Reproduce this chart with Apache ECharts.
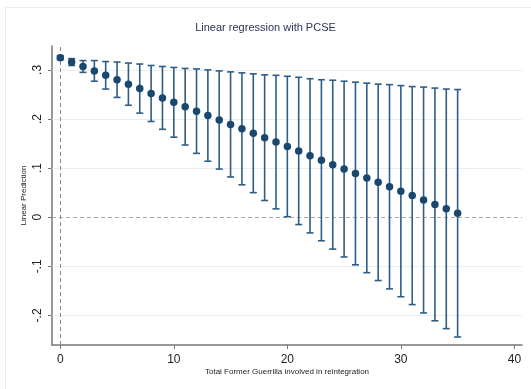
<!DOCTYPE html>
<html>
<head>
<meta charset="utf-8">
<title>Linear regression with PCSE</title>
<script src="https://cdn.jsdelivr.net/npm/echarts@6/dist/echarts.min.js"></script>
<style>
  html, body { margin: 0; padding: 0; background: #fff; }
  #chart { width: 531px; height: 389px; }
</style>
</head>
<body>
<div id="chart"></div>
<script>
// Total former guerrilla (x), predicted values and 95% CI bounds
var guerrilla = [0, 1, 2, 3, 4, 5, 6, 7, 8, 9, 10, 11, 12, 13, 14, 15, 16, 17,
    18, 19, 20, 21, 22, 23, 24, 25, 26, 27, 28, 29, 30, 31, 32, 33, 34, 35];
var prediction = [0.325, 0.316, 0.307, 0.298, 0.289, 0.280, 0.271, 0.262, 0.252,
    0.243, 0.234, 0.225, 0.216, 0.207, 0.198, 0.189, 0.180, 0.171, 0.162, 0.153,
    0.144, 0.135, 0.125, 0.116, 0.107, 0.098, 0.089, 0.080, 0.071, 0.062, 0.053,
    0.044, 0.035, 0.026, 0.017, 0.008];
var lowerCI = [0.321, 0.309, 0.295, 0.277, 0.261, 0.244, 0.228, 0.212, 0.195,
    0.179, 0.163, 0.147, 0.130, 0.114, 0.098, 0.082, 0.066, 0.050, 0.034, 0.017,
    0.001, -0.015, -0.032, -0.048, -0.065, -0.081, -0.097, -0.113, -0.129, -0.146,
    -0.162, -0.178, -0.195, -0.211, -0.227, -0.244];
var upperCI = [0.329, 0.323, 0.319, 0.319, 0.317, 0.316, 0.314, 0.312, 0.309,
    0.307, 0.305, 0.303, 0.302, 0.300, 0.298, 0.296, 0.294, 0.292, 0.290, 0.289,
    0.287, 0.285, 0.282, 0.280, 0.279, 0.277, 0.275, 0.273, 0.271, 0.270, 0.268,
    0.266, 0.265, 0.263, 0.261, 0.260];

var xTicks = [0, 10, 20, 30, 40];
var yTicks = [-0.2, -0.1, 0, 0.1, 0.2, 0.3];
var yTickLabels = ['-.2', '-.1', '0', '.1', '.2', '.3'];

var navy = '#1a476f';
var barColor = '#2f5d86';
var font = '"Liberation Sans", Arial, sans-serif';

var myChart = echarts.init(document.getElementById('chart'), null, { renderer: 'canvas' });

var ciData = guerrilla.map(function(x, i) {
    return [x, lowerCI[i], upperCI[i]];
});
var pointData = guerrilla.map(function(x, i) {
    return [x, prediction[i]];
});

// light grid lines, dashed zero reference lines
var gridLines = yTicks.filter(function(v) { return v !== 0; }).map(function(v) {
    return { yAxis: v, lineStyle: { color: '#e6eff1', width: 1, type: 'solid' } };
});
gridLines.push({ yAxis: 0, lineStyle: { color: '#a8a8a8', width: 1, type: [4, 3] } });
gridLines.push({ xAxis: 0, lineStyle: { color: '#8a8a8a', width: 1, type: [4, 3] } });

function renderCI(params, api) {
    var x = api.value(0);
    var lo = api.coord([x, api.value(1)]);
    var hi = api.coord([x, api.value(2)]);
    var hw = 3.5;
    var style = { stroke: barColor, lineWidth: 1.6 };
    return {
        type: 'group',
        children: [
            { type: 'line', shape: { x1: lo[0], y1: lo[1], x2: hi[0], y2: hi[1] }, style: style },
            { type: 'line', shape: { x1: lo[0] - hw, y1: lo[1], x2: lo[0] + hw, y2: lo[1] }, style: style },
            { type: 'line', shape: { x1: hi[0] - hw, y1: hi[1], x2: hi[0] + hw, y2: hi[1] }, style: style }
        ]
    };
}

var option = {
    backgroundColor: '#fff',
    animation: false,
    title: {
        text: 'Linear regression with PCSE',
        left: 'center',
        top: 17,
        textStyle: { fontFamily: font, fontSize: 11, fontWeight: 'normal', color: '#2a3654' }
    },
    graphic: [
        { type: 'line', shape: { x1: 5.5, y1: 7.5, x2: 531, y2: 7.5 }, style: { stroke: '#ececec', lineWidth: 1 } },
        { type: 'line', shape: { x1: 5.5, y1: 7.5, x2: 5.5, y2: 389 }, style: { stroke: '#ececec', lineWidth: 1 } }
    ],
    grid: { left: 52, top: 46, width: 470, height: 299, containLabel: false },
    xAxis: {
        type: 'value',
        min: -0.73,
        max: 40.67,
        name: 'Total Former Guerrilla involved in reintegration',
        nameLocation: 'middle',
        nameGap: 23,
        nameMoveOverlap: false,
        nameTextStyle: { fontFamily: font, fontSize: 8, color: '#222' },
        axisLine: { show: true, onZero: false, lineStyle: { color: '#777', width: 1.5 } },
        axisTick: { show: true, length: 4, customValues: xTicks, lineStyle: { color: '#777' } },
        axisLabel: { customValues: xTicks, margin: 9, fontFamily: font, fontSize: 12, color: '#222' },
        splitLine: { show: false }
    },
    yAxis: {
        type: 'value',
        min: -0.2603,
        max: 0.3487,
        name: 'Linear Prediction',
        nameLocation: 'middle',
        nameGap: 24,
        nameMoveOverlap: false,
        nameRotate: 90,
        nameTextStyle: { fontFamily: font, fontSize: 8, color: '#222' },
        axisLine: { show: true, onZero: false, lineStyle: { color: '#777', width: 1.5 } },
        axisTick: { show: true, length: 4, customValues: yTicks, lineStyle: { color: '#777' } },
        axisLabel: {
            customValues: yTicks,
            rotate: 90,
            margin: 8,
            fontFamily: font,
            fontSize: 12,
            color: '#222',
            formatter: function(v) {
                var i = yTicks.findIndex(function(t) { return Math.abs(t - v) < 1e-9; });
                return i >= 0 ? yTickLabels[i] : '';
            }
        },
        splitLine: { show: false }
    },
    series: [
        {
            type: 'scatter',
            data: [],
            z: 1,
            markLine: {
                silent: true,
                z: 1,
                symbol: 'none',
                label: { show: false },
                data: gridLines
            }
        },
        {
            type: 'custom',
            renderItem: renderCI,
            data: ciData,
            z: 10
        },
        {
            type: 'scatter',
            data: pointData,
            symbol: 'circle',
            symbolSize: 7.5,
            itemStyle: { color: navy, opacity: 1 },
            z: 11
        }
    ]
};

myChart.setOption(option);
</script>
</body>
</html>
